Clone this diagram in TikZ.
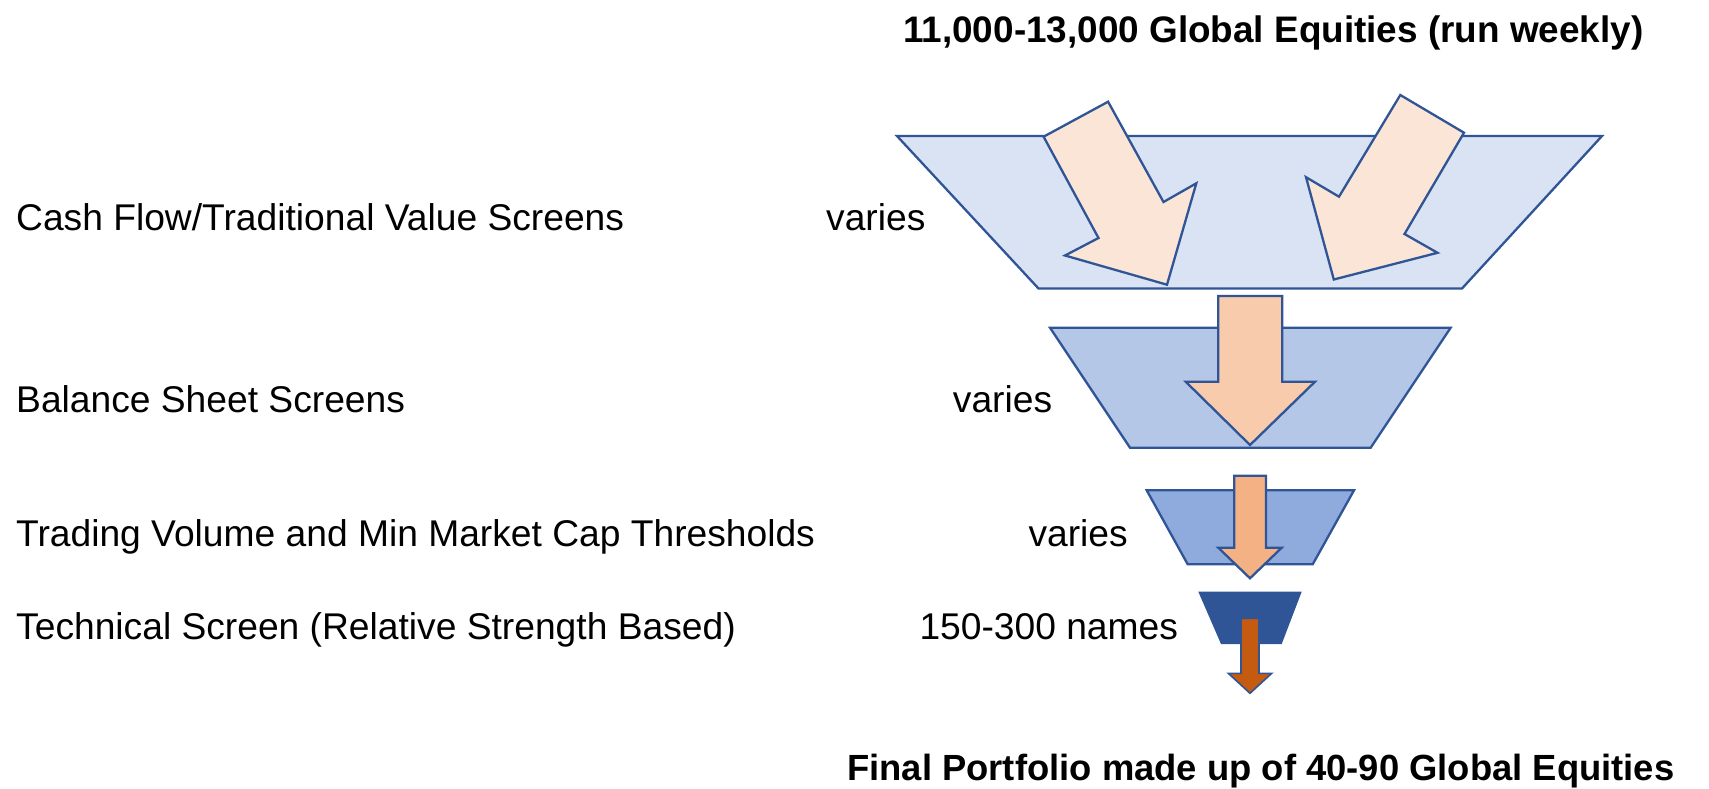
\documentclass[tikz,border=0pt]{standalone}
\usepackage{fontspec}
\setmainfont{Liberation Sans}
\definecolor{edge}{HTML}{2F5597}
\definecolor{fa}{HTML}{DAE3F3}
\definecolor{fb}{HTML}{B4C7E7}
\definecolor{fc}{HTML}{8FAADC}
\definecolor{fd}{HTML}{2F5597}
\definecolor{aa}{HTML}{FBE5D6}
\definecolor{ab}{HTML}{F8CBAD}
\definecolor{ac}{HTML}{F4B183}
\definecolor{ad}{HTML}{C55A11}
\tikzset{
  stage/.style={draw=edge, line width=2.3pt, line join=miter},
  flow/.style={draw=edge, line width=2.3pt, line join=miter},
  lbl/.style={anchor=base west, inner sep=0pt, font=\fontsize{37.2}{40}\selectfont},
  ttl/.style={anchor=base west, inner sep=0pt, font=\fontsize{36.9}{40}\selectfont\bfseries},
  ttlb/.style={anchor=base west, inner sep=0pt, font=\fontsize{36.4}{40}\selectfont\bfseries},
}
\begin{document}
\begin{tikzpicture}[x=1pt,y=-1pt]
\useasboundingbox (0,0) rectangle (1709,788);
% funnel stages
\path[stage, fill=fa] (897,136) -- (1602,136) -- (1462,288.5) -- (1038.5,288.5) -- cycle;
\path[stage, fill=fb] (1050,327.7) -- (1450.7,327.7) -- (1370.7,447.7) -- (1130,447.7) -- cycle;
\path[stage, fill=fc] (1146.7,490.3) -- (1354,490.3) -- (1312.7,564.3) -- (1187.7,564.3) -- cycle;
\path[fill=fd] (1198.3,591.7) -- (1301.7,591.7) -- (1281.7,644) -- (1221,644) -- cycle;
% arrows
\path[flow, fill=aa] (1043.6,136.7) -- (1108.1,101.7) -- (1163.5,202) -- (1196.3,183.3) -- (1167,284.7) -- (1065,255.5) -- (1098.5,238) -- cycle;
\path[flow, fill=aa] (1400.3,95) -- (1464,132.7) -- (1404.5,234) -- (1437.5,252.8) -- (1333.8,279.5) -- (1306,177.2) -- (1339,196.7) -- cycle;
\path[flow, fill=ab] (1218.3,296) -- (1282.3,296) -- (1282.3,381.7) -- (1315,381.7) -- (1250,445) -- (1185.7,381.7) -- (1218.3,381.7) -- cycle;
\path[flow, fill=ac] (1234.3,475.7) -- (1266,475.7) -- (1266,547.7) -- (1281.7,547.7) -- (1250,578.3) -- (1218.3,547.7) -- (1234.3,547.7) -- cycle;
\path[draw=edge, line width=1.6pt, fill=ad] (1241,618.3) -- (1259,618.3) -- (1259,673.3) -- (1271.7,673.3) -- (1250,693.3) -- (1228.3,673.3) -- (1241,673.3) -- cycle;
% texts
\node[ttl] (top) at (903,42) {11,000-13,000 Global Equities (run weekly)};
\node[ttlb] (bottom) at (847,780) {Final Portfolio made up of 40-90 Global Equities};
\node[lbl] (l1) at (16,230) {Cash Flow/Traditional Value Screens};
\node[lbl] (l2) at (16,412) {Balance Sheet Screens};
\node[lbl] (l3) at (16,546) {Trading Volume and Min Market Cap Thresholds};
\node[lbl] (l4) at (16,639) {Technical Screen (Relative Strength Based)};
\node[lbl] (v1) at (826,230) {varies};
\node[lbl] (v2) at (952.7,412) {varies};
\node[lbl] (v3) at (1028.3,546) {varies};
\node[lbl] (v4) at (919.3,639) {150-300 names};
\end{tikzpicture}
\end{document}
